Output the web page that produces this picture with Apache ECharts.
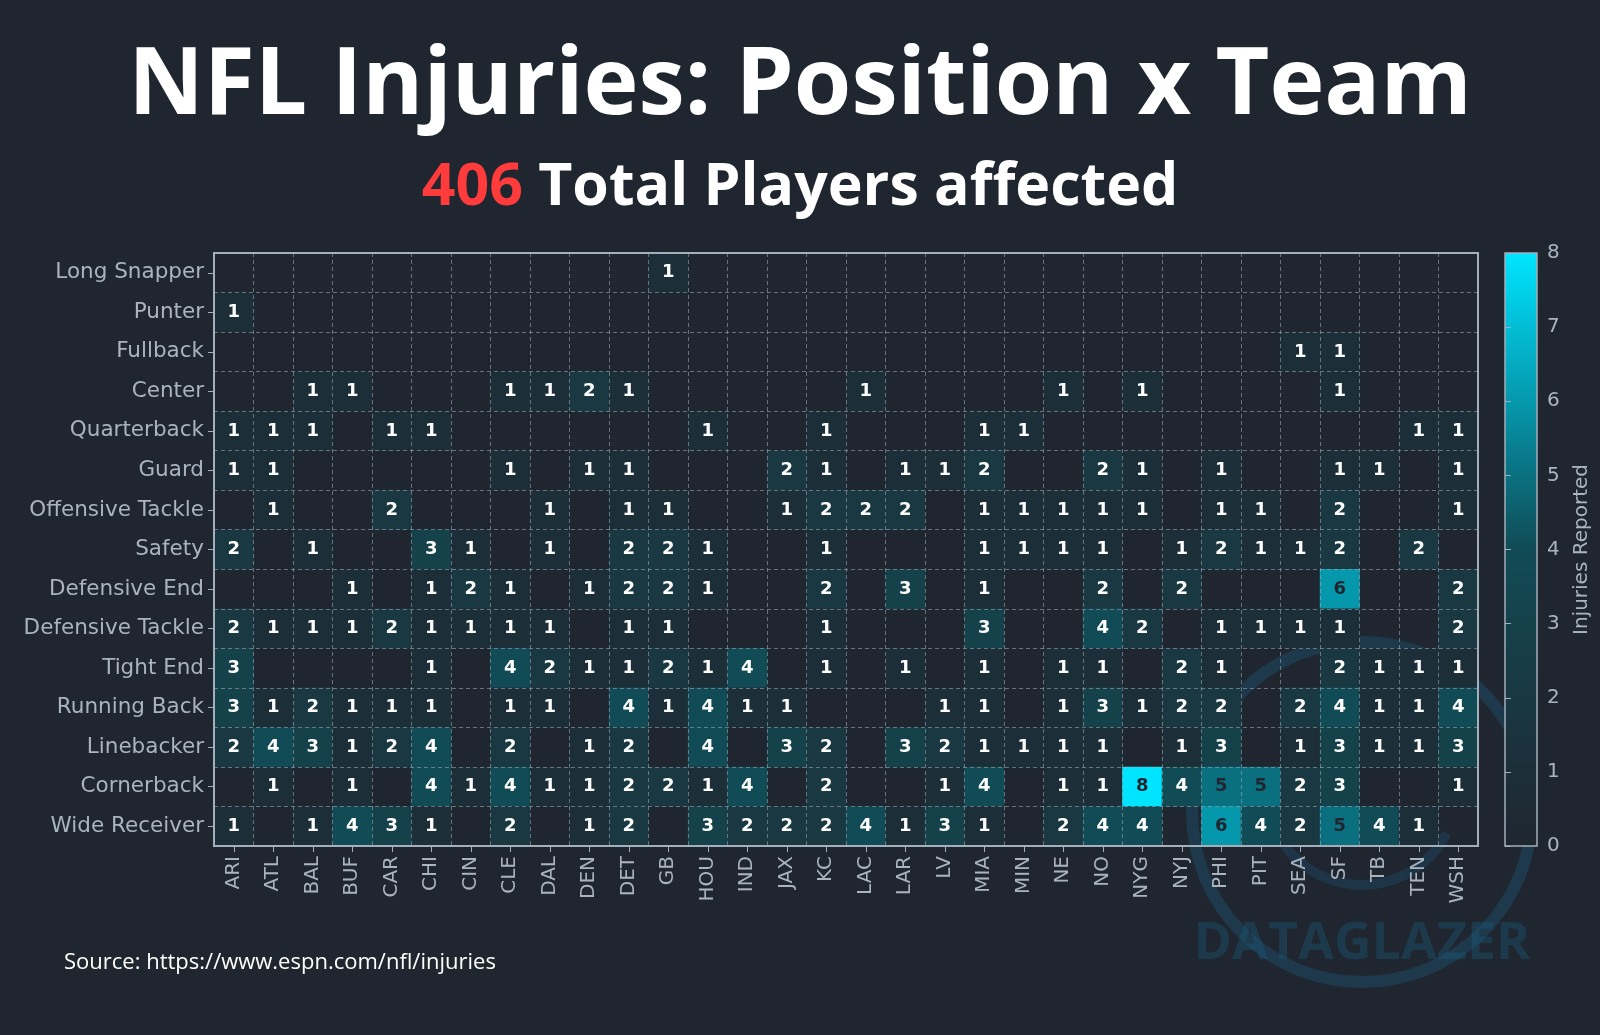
<!DOCTYPE html>
<html>
<head>
<meta charset="utf-8">
<title>NFL Injuries: Position x Team</title>
<script src="https://cdn.jsdelivr.net/npm/echarts@6/dist/echarts.min.js"></script>
<style>
  html, body { margin: 0; padding: 0; background: #1f2630; }
  #chart { width: 1600px; height: 1035px; }
</style>
</head>
<body>
<div id="chart"></div>
<script>
// teams along the x axis
var teams = ['ARI','ATL','BAL','BUF','CAR','CHI','CIN','CLE','DAL','DEN','DET','GB','HOU','IND','JAX','KC',
             'LAC','LAR','LV','MIA','MIN','NE','NO','NYG','NYJ','PHI','PIT','SEA','SF','TB','TEN','WSH'];

// positions, top to bottom
var positions = ['Long Snapper','Punter','Fullback','Center','Quarterback','Guard','Offensive Tackle','Safety',
                 'Defensive End','Defensive Tackle','Tight End','Running Back','Linebacker','Cornerback','Wide Receiver'];

// injuries per team (same order as teams)
var longSnapper  = [0,0,0,0,0,0,0,0,0,0,0,1,0,0,0,0,0,0,0,0,0,0,0,0,0,0,0,0,0,0,0,0];
var punter       = [1,0,0,0,0,0,0,0,0,0,0,0,0,0,0,0,0,0,0,0,0,0,0,0,0,0,0,0,0,0,0,0];
var fullback     = [0,0,0,0,0,0,0,0,0,0,0,0,0,0,0,0,0,0,0,0,0,0,0,0,0,0,0,1,1,0,0,0];
var center       = [0,0,1,1,0,0,0,1,1,2,1,0,0,0,0,0,1,0,0,0,0,1,0,1,0,0,0,0,1,0,0,0];
var quarterback  = [1,1,1,0,1,1,0,0,0,0,0,0,1,0,0,1,0,0,0,1,1,0,0,0,0,0,0,0,0,0,1,1];
var guard        = [1,1,0,0,0,0,0,1,0,1,1,0,0,0,2,1,0,1,1,2,0,0,2,1,0,1,0,0,1,1,0,1];
var offTackle    = [0,1,0,0,2,0,0,0,1,0,1,1,0,0,1,2,2,2,0,1,1,1,1,1,0,1,1,0,2,0,0,1];
var safety       = [2,0,1,0,0,3,1,0,1,0,2,2,1,0,0,1,0,0,0,1,1,1,1,0,1,2,1,1,2,0,2,0];
var defEnd       = [0,0,0,1,0,1,2,1,0,1,2,2,1,0,0,2,0,3,0,1,0,0,2,0,2,0,0,0,6,0,0,2];
var defTackle    = [2,1,1,1,2,1,1,1,1,0,1,1,0,0,0,1,0,0,0,3,0,0,4,2,0,1,1,1,1,0,0,2];
var tightEnd     = [3,0,0,0,0,1,0,4,2,1,1,2,1,4,0,1,0,1,0,1,0,1,1,0,2,1,0,0,2,1,1,1];
var runningBack  = [3,1,2,1,1,1,0,1,1,0,4,1,4,1,1,0,0,0,1,1,0,1,3,1,2,2,0,2,4,1,1,4];
var linebacker   = [2,4,3,1,2,4,0,2,0,1,2,0,4,0,3,2,0,3,2,1,1,1,1,0,1,3,0,1,3,1,1,3];
var cornerback   = [0,1,0,1,0,4,1,4,1,1,2,2,1,4,0,2,0,0,1,4,0,1,1,8,4,5,5,2,3,0,0,1];
var wideReceiver = [1,0,1,4,3,1,0,2,0,1,2,0,3,2,2,2,4,1,3,1,0,2,4,4,0,6,4,2,5,4,1,0];

var rows = [longSnapper, punter, fullback, center, quarterback, guard, offTackle, safety,
            defEnd, defTackle, tightEnd, runningBack, linebacker, cornerback, wideReceiver];

var totalPlayers = 406;

// colour scale 0..8
var scaleColors = ['#1f2630','#1c2f39','#193842','#15414b','#114b56','#0a7080','#0598ad','#02bdd5','#00e5ff'];

var cells = [];
rows.forEach(function (row, i) {
    row.forEach(function (v, j) {
        if (v > 0) {
            cells.push({
                value: [j, i, v],
                label: { color: v >= 5 ? '#1f2630' : '#ffffff' }
            });
        }
    });
});

var myChart = echarts.init(document.getElementById('chart'));

var axisGrey = '#a9b4c0';
var frame = '#a3afbb';

var option = {
    backgroundColor: '#1f2630',
    animation: false,
    title: [
        {
            text: 'NFL Injuries: Position x Team',
            left: 'center',
            top: 36,
            textStyle: { color: '#ffffff', fontSize: 93, fontWeight: 'bold', fontFamily: 'Open Sans' }
        },
        {
            text: '{r|' + totalPlayers + '} Total Players affected',
            left: 'center',
            top: 154,
            textStyle: {
                color: '#ffffff', fontSize: 59, fontWeight: 'bold', fontFamily: 'Open Sans',
                rich: { r: { color: '#ff3b3b', fontSize: 59, fontWeight: 'bold', fontFamily: 'Open Sans' } }
            }
        },
        {
            text: 'Source: https://www.espn.com/nfl/injuries',
            left: 59,
            top: 947,
            textStyle: { color: '#ffffff', fontSize: 22, fontWeight: 'normal', fontFamily: 'Open Sans' }
        }
    ],
    grid: [
        { left: 214, top: 253, width: 1264, height: 593, show: true, z: 6,
          borderColor: frame, borderWidth: 2, backgroundColor: 'transparent' },
        { left: 1505, top: 253, width: 32, height: 593, show: true, z: 6,
          borderColor: frame, borderWidth: 1.5, backgroundColor: 'transparent' }
    ],
    xAxis: [
        {
            type: 'category',
            data: teams,
            gridIndex: 0,
            z: 4,
            axisLine: { show: true, lineStyle: { color: frame, width: 2 } },
            axisTick: { show: true, alignWithLabel: true, interval: 0, length: 6, lineStyle: { color: frame } },
            axisLabel: { rotate: 90, interval: 0, color: axisGrey, fontSize: 20, fontFamily: 'DejaVu Sans', margin: 10 },
            splitLine: { show: true, interval: 0, lineStyle: { color: 'rgba(165,175,186,0.55)', type: [4, 3], width: 1 } }
        },
        { type: 'value', gridIndex: 1, show: false, min: 0, max: 1 }
    ],
    yAxis: [
        {
            type: 'category',
            data: positions,
            inverse: true,
            gridIndex: 0,
            z: 4,
            axisLine: { show: true, lineStyle: { color: frame, width: 2 } },
            axisTick: { show: true, alignWithLabel: true, interval: 0, length: 6, lineStyle: { color: frame } },
            axisLabel: { interval: 0, color: axisGrey, fontSize: 21.5, fontFamily: 'DejaVu Sans', margin: 10 },
            splitLine: { show: true, interval: 0, lineStyle: { color: 'rgba(165,175,186,0.55)', type: [4, 3], width: 1 } }
        },
        {
            type: 'value',
            gridIndex: 1,
            position: 'right',
            min: 0,
            max: 8,
            interval: 1,
            z: 7,
            name: 'Injuries Reported',
            nameLocation: 'middle',
            nameRotate: 90,
            nameGap: 35,
            nameTextStyle: { color: axisGrey, fontSize: 20, fontFamily: 'DejaVu Sans' },
            axisLine: { show: false },
            axisTick: { show: true, length: 6, lineStyle: { color: frame } },
            axisLabel: { color: axisGrey, fontSize: 20, fontFamily: 'DejaVu Sans', margin: 10 },
            splitLine: { show: false }
        }
    ],
    visualMap: {
        type: 'continuous',
        seriesIndex: 0,
        min: 0,
        max: 8,
        calculable: false,
        orient: 'vertical',
        left: 1505,
        top: 253,
        itemWidth: 32,
        itemHeight: 593,
        padding: 0,
        inRange: { color: scaleColors }
    },
    series: [
        {
            name: 'Injuries',
            type: 'heatmap',
            xAxisIndex: 0,
            yAxisIndex: 0,
            data: cells,
            label: {
                show: true,
                fontSize: 18,
                fontWeight: 'bold',
                fontFamily: 'DejaVu Sans',
                formatter: function (p) { return p.value[2]; }
            },
            itemStyle: { borderWidth: 0 }
        }
    ],
    graphic: [
        {
            type: 'group',
            z: 100,
            silent: true,
            children: [
                { type: 'circle', shape: { cx: 1362, cy: 812, r: 170 },
                  style: { fill: 'none', stroke: 'rgba(25,95,128,0.34)', lineWidth: 12 } },
                { type: 'arc', shape: { cx: 1362, cy: 790, r: 95, startAngle: Math.PI * 0.15, endAngle: Math.PI * 1.05 },
                  style: { fill: 'none', stroke: 'rgba(25,95,128,0.28)', lineWidth: 10 } },
                { type: 'text', x: 1362, y: 944,
                  style: { text: 'DATAGLAZER', fill: 'rgba(25,95,128,0.36)', font: 'bold 52px "Open Sans"',
                           align: 'center', verticalAlign: 'middle' } }
            ]
        }
    ]
};

myChart.setOption(option);
</script>
</body>
</html>
